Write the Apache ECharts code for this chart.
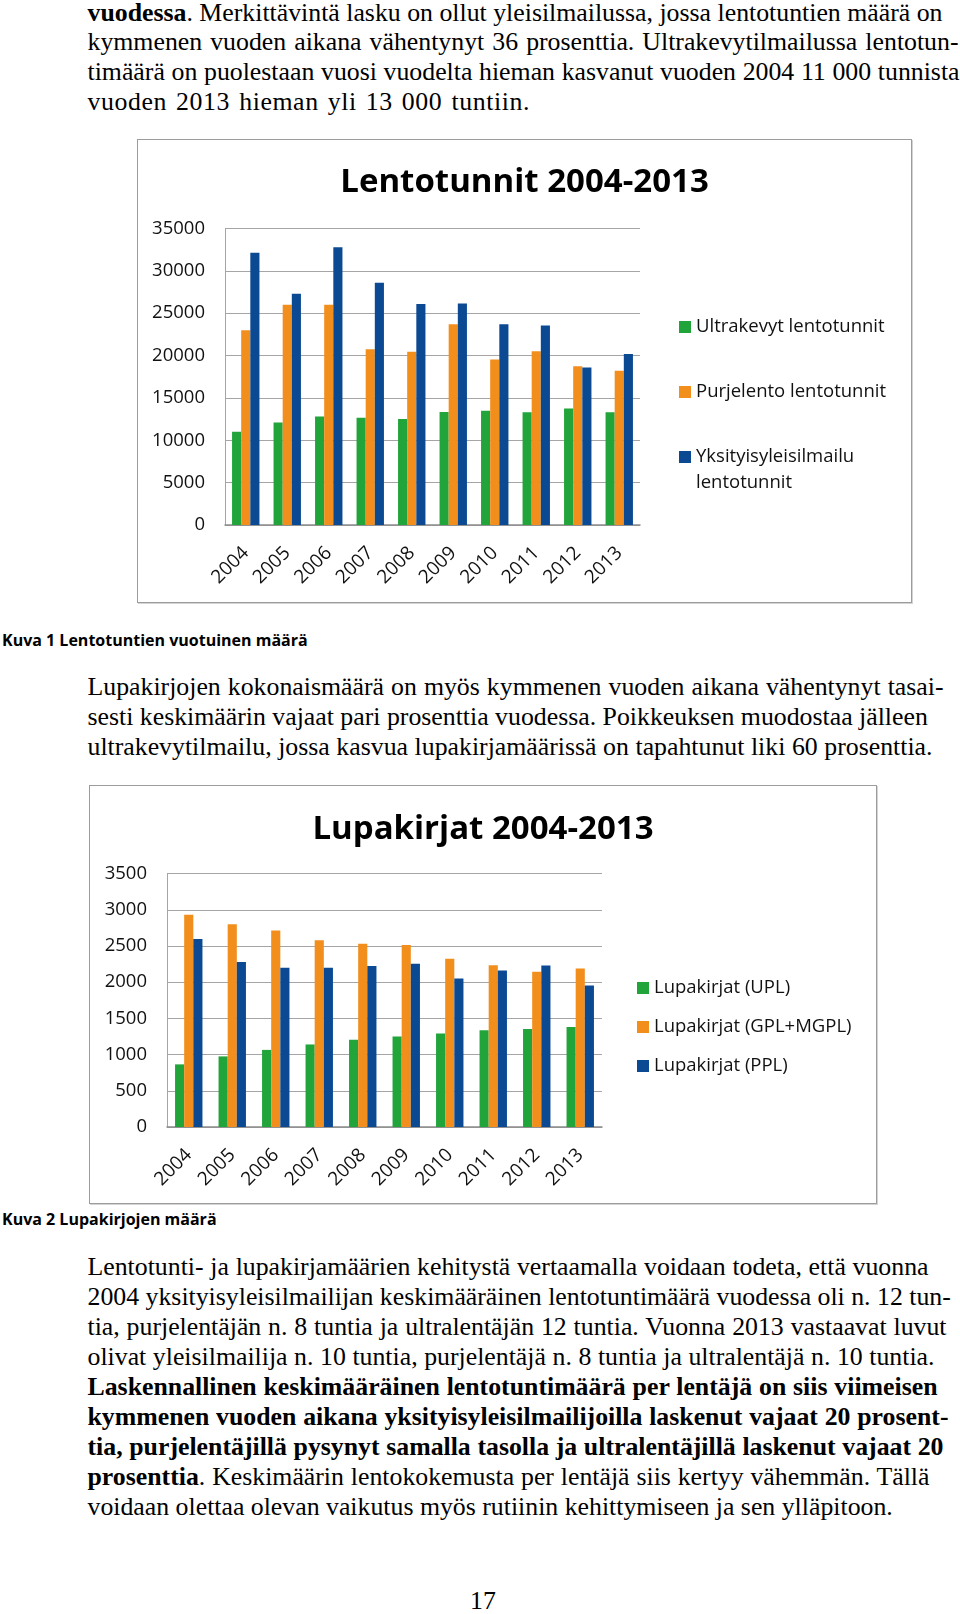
<!DOCTYPE html>
<html><head><meta charset="utf-8">
<script src="https://cdn.jsdelivr.net/npm/echarts@6/dist/echarts.min.js"></script>
<style>
html,body{margin:0;padding:0;background:#fff;}
body{width:960px;height:1614px;position:relative;overflow:hidden;}
.ln{position:absolute;left:87.5px;font-family:'Liberation Serif','Times New Roman',serif;font-size:25.8px;line-height:30px;height:30px;white-space:nowrap;color:#000;}
.j{text-align:justify;text-align-last:justify;}
.cap{position:absolute;left:2px;font-family:'Open Sans',sans-serif;font-weight:bold;font-size:16px;line-height:20px;color:#000;white-space:nowrap;}
.box{position:absolute;box-sizing:border-box;border:1px solid #9c9c9c;box-shadow:1px 1px 0 #d4d4d4;background:#fff;}
</style></head>
<body>
<div class="ln j" style="top:-2px;width:855px"><b>vuodessa</b>. Merkittävintä lasku on ollut yleisilmailussa, jossa lentotuntien määrä on</div>
<div class="ln j" style="top:27px;width:871px">kymmenen vuoden aikana vähentynyt 36 prosenttia. Ultrakevytilmailussa lentotun-</div>
<div class="ln j" style="top:57px;width:872px">timäärä on puolestaan vuosi vuodelta hieman kasvanut vuoden 2004 11 000 tunnista</div>
<div class="ln" style="top:87px;letter-spacing:0.6px;word-spacing:2px">vuoden 2013 hieman yli 13 000 tuntiin.</div>

<div id="c1" class="box" style="left:137px;top:139px;width:775px;height:464px"></div>
<div class="cap" style="top:630px">Kuva 1 Lentotuntien vuotuinen määrä</div>

<div class="ln j" style="top:672px;width:856px">Lupakirjojen kokonaismäärä on myös kymmenen vuoden aikana vähentynyt tasai-</div>
<div class="ln j" style="top:702px;width:840px">sesti keskimäärin vajaat pari prosenttia vuodessa. Poikkeuksen muodostaa jälleen</div>
<div class="ln j" style="top:732px;width:845px">ultrakevytilmailu, jossa kasvua lupakirjamäärissä on tapahtunut liki 60 prosenttia.</div>

<div id="c2" class="box" style="left:89px;top:785px;width:788px;height:419px"></div>
<div class="cap" style="top:1209px">Kuva 2 Lupakirjojen määrä</div>

<div class="ln j" style="top:1252px;width:841px">Lentotunti- ja lupakirjamäärien kehitystä vertaamalla voidaan todeta, että vuonna</div>
<div class="ln j" style="top:1282px;width:861px">2004 yksityisyleisilmailijan keskimääräinen lentotuntimäärä vuodessa oli n. 12 tun-</div>
<div class="ln j" style="top:1312px;width:859px">tia, purjelentäjän n. 8 tuntia ja ultralentäjän 12 tuntia. Vuonna 2013 vastaavat luvut</div>
<div class="ln j" style="top:1342px;width:847px">olivat yleisilmailija n. 10 tuntia, purjelentäjä n. 8 tuntia ja ultralentäjä n. 10 tuntia.</div>
<div class="ln j" style="top:1372px;width:850px"><b>Laskennallinen keskimääräinen lentotuntimäärä per lentäjä on siis viimeisen</b></div>
<div class="ln j" style="top:1402px;width:861px"><b>kymmenen vuoden aikana yksityisyleisilmailijoilla laskenut vajaat 20 prosent-</b></div>
<div class="ln j" style="top:1432px;width:856px"><b>tia, purjelentäjillä pysynyt samalla tasolla ja ultralentäjillä laskenut vajaat 20</b></div>
<div class="ln j" style="top:1462px;width:842px"><b>prosenttia</b>. Keskimäärin lentokokemusta per lentäjä siis kertyy vähemmän. Tällä</div>
<div class="ln" style="top:1492px">voidaan olettaa olevan vaikutus myös rutiinin kehittymiseen ja sen ylläpitoon.</div>

<div class="ln" style="top:1586px;left:470px">17</div>

<script>
// ---- Data ----
const years = ['2004','2005','2006','2007','2008','2009','2010','2011','2012','2013'];
const ultrakevytTunnit = [11000, 12100, 12800, 12650, 12500, 13350, 13500, 13300, 13750, 13300];
const purjelentoTunnit = [23000, 26000, 26000, 20750, 20450, 23700, 19550, 20500, 18750, 18200];
const yksityisTunnit = [32150, 27300, 32800, 28600, 26100, 26150, 23700, 23550, 18600, 20200];
const lupaUPL = [865, 975, 1065, 1140, 1205, 1250, 1290, 1335, 1355, 1380];
const lupaGPL = [2930, 2800, 2715, 2580, 2530, 2515, 2325, 2235, 2145, 2190];
const lupaPPL = [2595, 2280, 2200, 2200, 2225, 2255, 2050, 2160, 2230, 1955];
const names1 = ['Ultrakevyt lentotunnit', 'Purjelento lentotunnit', 'Yksityisyleisilmailu lentotunnit'];
const names2 = ['Lupakirjat (UPL)', 'Lupakirjat (GPL+MGPL)', 'Lupakirjat (PPL)'];
const title1 = 'Lentotunnit 2004-2013';
const title2 = 'Lupakirjat 2004-2013';

const COLORS = ['#21a43a', '#f28e1c', '#0b4a93'];
const FONT = "'Open Sans', sans-serif";
const TXT = '#111';

function legendItem(name, left, top, fmt) {
  return {
    data: [name], left: left, top: top, orient: 'vertical', padding: 0,
    icon: 'rect', itemWidth: 12, itemHeight: 12, itemGap: 0,
    formatter: fmt || '{name}',
    textStyle: { fontFamily: FONT, fontSize: 18.5, color: TXT, lineHeight: 26 }
  };
}

function makeOption(cfg) {
  return {
    animation: false,
    color: COLORS,
    title: {
      text: cfg.title, left: 'center', top: cfg.titleTop,
      textStyle: { fontFamily: FONT, fontSize: 33, fontWeight: 'bold', color: '#000' }
    },
    legend: cfg.legends,
    grid: cfg.grid,
    xAxis: {
      type: 'category', data: years,
      axisLine: { lineStyle: { color: '#8c8c8c', width: 1.5 } },
      axisTick: { show: false },
      axisLabel: { rotate: 45, margin: 25, fontFamily: FONT, fontSize: 19, color: TXT, interval: 0 }
    },
    yAxis: {
      type: 'value', min: 0, max: cfg.max, interval: cfg.interval,
      axisLine: { show: true, lineStyle: { color: '#a5a5a5' } },
      axisTick: { show: false },
      splitLine: { lineStyle: { color: '#a5a5a5', width: 1.2 } },
      axisLabel: { margin: 20, fontFamily: FONT, fontSize: 18.5, color: TXT, formatter: v => String(v) }
    },
    series: cfg.series.map((d, i) => ({
      type: 'bar', name: cfg.names[i], data: d,
      barGap: '0%', barCategoryGap: cfg.gap,
      itemStyle: { color: COLORS[i] }
    }))
  };
}

const ch1 = echarts.init(document.getElementById('c1'), null, { renderer: 'canvas' });
ch1.setOption(makeOption({
  title: title1, titleTop: 21,
  grid: { left: 87, right: 271, top: 88.5, bottom: 77 },
  max: 35000, interval: 5000, gap: '34%',
  names: names1,
  series: [ultrakevytTunnit, purjelentoTunnit, yksityisTunnit],
  legends: [
    legendItem(names1[0], 541, 174),
    legendItem(names1[1], 541, 239),
    legendItem(names1[2], 541, 278, '\nYksityisyleisilmailu\nlentotunnit')
  ]
}));

const ch2 = echarts.init(document.getElementById('c2'), null, { renderer: 'canvas' });
ch2.setOption(makeOption({
  title: title2, titleTop: 22,
  grid: { left: 77, right: 274, top: 87.6, bottom: 76 },
  max: 3500, interval: 500, gap: '37%',
  names: names2,
  series: [lupaUPL, lupaGPL, lupaPPL],
  legends: [
    legendItem(names2[0], 547, 189),
    legendItem(names2[1], 547, 228),
    legendItem(names2[2], 547, 267)
  ]
}));
</script>
</body></html>
